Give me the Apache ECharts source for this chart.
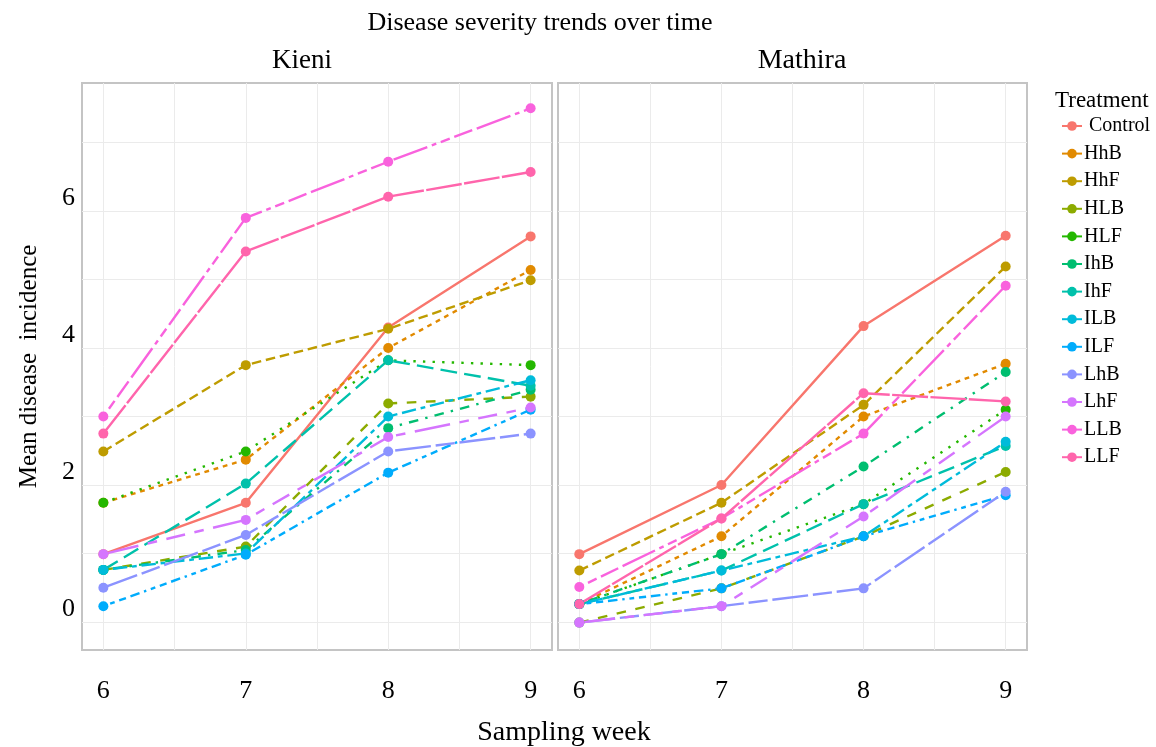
<!DOCTYPE html>
<html lang="en">
<head>
    <meta charset="UTF-8">
    <title>Disease severity trends over time</title>
    <script src="https://cdn.jsdelivr.net/npm/echarts@6/dist/echarts.min.js"></script>
    <style>
    html, body { margin: 0; padding: 0; background: #fff; }
    #chart { width: 1156px; height: 747px; }
    </style>
</head>
<body>
    <div id="chart"></div>
    <script>
        // data
        var weeks = [6, 7, 8, 9];
        var treatments = ['Control', 'HhB', 'HhF', 'HLB', 'HLF', 'IhB', 'IhF', 'ILB', 'ILF', 'LhB', 'LhF', 'LLB', 'LLF'];
        var sites = ['Kieni', 'Mathira'];
        var yTicks = [0, 2, 4, 6];
        var xGrid = [6, 6.5, 7, 7.5, 8, 8.5, 9];
        var yGrid = [0, 1, 2, 3, 4, 5, 6, 7];

        var kieni = {
            Control: [0.99, 1.74, 4.30, 5.63],
            HhB: [1.74, 2.37, 4.00, 5.14],
            HhF: [2.49, 3.75, 4.28, 4.99],
            HLB: [0.76, 1.10, 3.19, 3.29],
            HLF: [1.74, 2.49, 3.82, 3.75],
            IhB: [0.76, 1.05, 2.83, 3.39],
            IhF: [0.76, 2.02, 3.82, 3.45],
            ILB: [0.76, 1.00, 3.00, 3.53],
            ILF: [0.23, 0.98, 2.18, 3.10],
            LhB: [0.50, 1.27, 2.49, 2.75],
            LhF: [0.99, 1.49, 2.70, 3.13],
            LLB: [3.00, 5.90, 6.72, 7.50],
            LLF: [2.75, 5.41, 6.21, 6.57]
        };
        var mathira = {
            Control: [0.99, 2.00, 4.32, 5.64],
            HhB: [0.26, 1.25, 3.00, 3.77],
            HhF: [0.75, 1.74, 3.17, 5.19],
            HLB: [-0.01, 0.49, 1.25, 2.19],
            HLF: [0.26, 0.99, 1.72, 3.10],
            IhB: [0.26, 0.99, 2.27, 3.65],
            IhF: [0.26, 0.75, 1.72, 2.57],
            ILB: [0.26, 0.75, 1.25, 2.63],
            ILF: [0.26, 0.49, 1.25, 1.85],
            LhB: [-0.01, 0.23, 0.49, 1.90],
            LhF: [-0.01, 0.23, 1.54, 3.00],
            LLB: [0.51, 1.51, 2.75, 4.91],
            LLF: [0.26, 1.51, 3.34, 3.22]
        };

        var colors = ['#F8766D', '#E18A00', '#BE9C00', '#8CAB00', '#24B700', '#00BE70', '#00C1AB',
                      '#00BBDA', '#00ACFC', '#8B93FF', '#D575FE', '#F962DD', '#FF65AC'];
        // ggplot linetypes, in units of line width
        var dashes = [null, [2,2], [4,2], [4,4], [1,3], [1,3,4,3], [7,3], [2,2,6,2],
                      [1,2,2,2,3,2,4,2], [15,2,8,2], [15,4,4,4,8,4,4,4], [2,2,4,2,8,2,15,2], [15,1]];

        var lw = 2.4;
        var serif = '"Liberation Serif", "DejaVu Serif", serif';
        var panels = [kieni, mathira];

        var series = [];
        panels.forEach(function (panel, p) {
            treatments.forEach(function (t, i) {
                var d = dashes[i] ? dashes[i].map(function (v) { return v * lw; }) : 'solid';
                series.push({
                    name: t,
                    type: 'line',
                    xAxisIndex: p,
                    yAxisIndex: p,
                    symbol: 'circle',
                    symbolSize: 10,
                    color: colors[i],
                    lineStyle: { width: lw, type: d },
                    data: weeks.map(function (w, k) { return [w, panel[t][k]]; })
                });
            });
        });

        var grids = [
            { left: 82, top: 83, width: 470, height: 567 },
            { left: 558, top: 83, width: 469, height: 567 }
        ];

        function xAxis(i) {
            return {
                type: 'value', gridIndex: i, min: 5.85, max: 9.15,
                axisLine: { show: false },
                axisTick: { show: false, customValues: xGrid },
                splitLine: { lineStyle: { color: '#ebebeb', width: 1 } },
                axisLabel: {
                    customValues: weeks,
                    margin: 28, fontSize: 26, color: '#000', fontFamily: serif
                }
            };
        }
        function yAxis(i) {
            return {
                type: 'value', gridIndex: i, min: -0.41, max: 7.87,
                axisLine: { show: false },
                axisTick: { show: false, customValues: yGrid },
                splitLine: { lineStyle: { color: '#ebebeb', width: 1 } },
                name: i === 0 ? 'Mean disease  incidence' : '',
                nameLocation: 'middle', nameRotate: 90, nameGap: 40,
                nameTextStyle: { fontSize: 25, color: '#000', fontFamily: serif },
                axisLabel: {
                    show: i === 0, customValues: yTicks,
                    margin: 7, fontSize: 26, color: '#000', fontFamily: serif,
                    verticalAlign: 'bottom'
                }
            };
        }

        var myChart = echarts.init(document.getElementById('chart'));
        var option = {
            animation: false,
            backgroundColor: '#fff',
            title: [
                { text: 'Disease severity trends over time', left: 535, top: 5, textAlign: 'center',
                  textStyle: { fontSize: 26, fontWeight: 'normal', color: '#000', fontFamily: serif } },
                { text: sites[0], left: 297, top: 42, textAlign: 'center',
                  textStyle: { fontSize: 27, fontWeight: 'normal', color: '#000', fontFamily: serif } },
                { text: sites[1], left: 797, top: 42, textAlign: 'center',
                  textStyle: { fontSize: 28, fontWeight: 'normal', color: '#000', fontFamily: serif } },
                { text: 'Sampling week', left: 559, top: 714, textAlign: 'center',
                  textStyle: { fontSize: 28, fontWeight: 'normal', color: '#000', fontFamily: serif } },
                { text: 'Treatment', left: 1050, top: 84,
                  textStyle: { fontSize: 23, fontWeight: 'normal', color: '#000', fontFamily: serif } }
            ],
            legend: {
                data: treatments,
                orient: 'vertical',
                left: 1056, top: 111,
                itemWidth: 20, itemHeight: 12, itemGap: 7.6,
                lineStyle: { type: 'solid', width: 2 },
                textStyle: { fontSize: 20, lineHeight: 20, color: '#000', fontFamily: serif, padding: [0, 0, 0, -3] },
                formatter: function (name) { return name === 'Control' ? ' ' + name : name; }
            },
            grid: grids.map(function (g) {
                return Object.assign({ show: true, borderColor: '#c4c4c4', borderWidth: 2, backgroundColor: '#fff' }, g);
            }),
            xAxis: [xAxis(0), xAxis(1)],
            yAxis: [yAxis(0), yAxis(1)],
            series: series
        };
        myChart.setOption(option);
    </script>
</body>
</html>
